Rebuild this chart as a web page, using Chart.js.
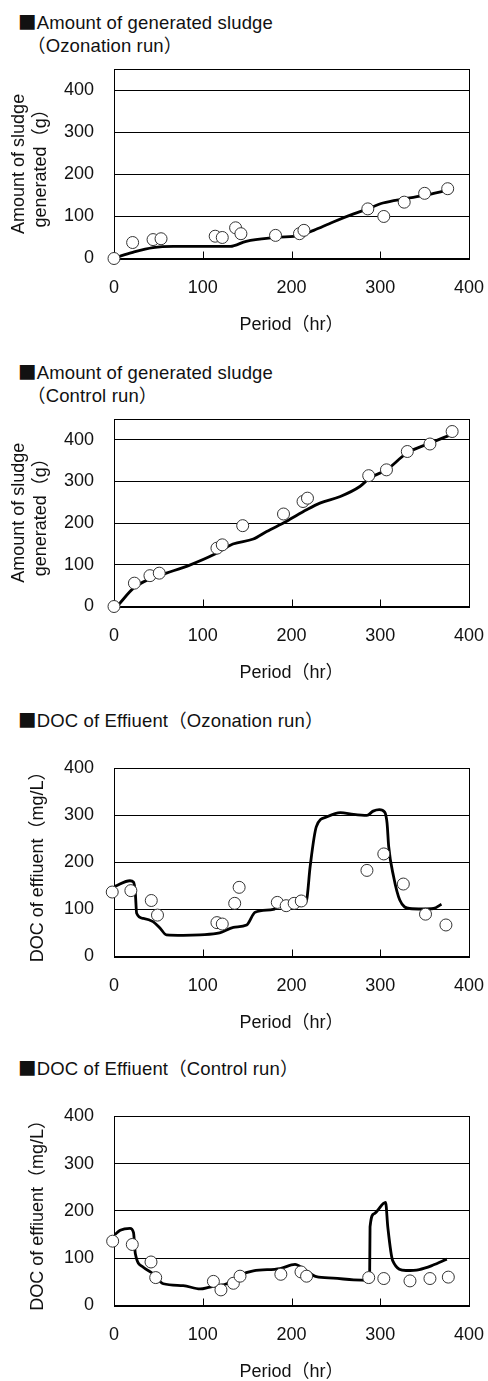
<!DOCTYPE html>
<html>
<head>
<meta charset="utf-8">
<script src="https://cdn.jsdelivr.net/npm/chart.js@4.4.1/dist/chart.umd.min.js"></script>
<style>
html, body { margin: 0; padding: 0; background: #fff; overflow: hidden; }
body { width: 488px; height: 1381px; position: relative; font-family: "Liberation Sans", "Noto Sans CJK JP", sans-serif; color: #111; }
.ttl { position: absolute; left: 18px; font-size: 18.5px; letter-spacing: 0.15px; line-height: 23px; white-space: nowrap; }
.sq { font-family: "Noto Sans CJK JP"; }
canvas { position: absolute; left: 0; }
</style>
</head>
<body>

<div class="ttl" style="top:10px"><span class="sq">■</span>Amount of generated sludge<br><span style="padding-left:9px">（Ozonation run）</span></div>
<canvas id="c1" width="488" height="284" style="top:52px"></canvas>

<div class="ttl" style="top:360px"><span class="sq">■</span>Amount of generated sludge<br><span style="padding-left:9px">（Control run）</span></div>
<canvas id="c2" width="488" height="282" style="top:402px"></canvas>

<div class="ttl" style="top:708px"><span class="sq">■</span>DOC of Effiuent（Ozonation run）</div>
<canvas id="c3" width="488" height="289" style="top:745px"></canvas>

<div class="ttl" style="top:1056px"><span class="sq">■</span>DOC of Effiuent（Control run）</div>
<canvas id="c4" width="488" height="290" style="top:1093px"></canvas>

<script>
// axis ticks
const xTicks = [0, 100, 200, 300, 400];

// sludge, ozonation run
const ozSludgeHr = [0, 21, 44, 53, 114, 122, 137, 143, 182, 209, 214, 286, 304, 327, 350, 376];
const ozSludgeG  = [0, 38, 45, 47, 53, 50, 73, 59, 55, 59, 67, 118, 100, 134, 155, 166];
const ozSludgeFitHr = [3, 20, 44, 67, 100, 131, 149, 183, 210, 225, 247, 270, 286, 303, 327, 350, 375];
const ozSludgeFitG  = [3, 14, 26, 29, 29, 29, 41, 50, 55, 67, 87, 106, 118, 132, 142, 150, 162];

// sludge, control run
const ctSludgeHr = [0, 23, 40.5, 51, 116, 122, 145, 191, 213, 218, 287, 307, 330.5, 356, 381];
const ctSludgeG  = [0, 56, 74, 80, 140, 148, 194, 222, 252, 260, 314, 328, 372, 390, 420];
const ctSludgeFitHr = [5, 22, 40, 59, 86, 112, 134, 157, 172, 194, 217, 232, 255, 277, 288, 307, 330, 356, 379];
const ctSludgeFitG  = [4, 44, 66, 80, 100, 124, 150, 162, 180, 204, 232, 248, 264, 288, 308, 328, 368, 392, 412];

// DOC, ozonation run
const ozDocHr = [-2, 19, 42, 49, 116, 122, 136, 141, 184, 194, 203, 211, 285, 304, 326, 351, 374];
const ozDocMg = [137, 140, 119, 88, 72, 69, 113, 147, 115, 108, 113, 118, 183, 218, 154, 90, 67];
const ozDocFitHr = [1, 18, 22, 24, 25.5, 33, 44, 52, 59, 78, 97, 119, 134.5, 149.5, 159, 179.5, 185, 202, 211.5, 217, 221, 228, 240, 255, 270, 285, 292, 299, 305, 307.7, 309.5, 315, 322, 333, 348, 360, 369];
const ozDocFitMg = [149, 161, 158, 136, 92, 81, 74, 60, 46, 45, 46, 50, 62, 67, 94, 100, 106, 106, 109, 120, 191, 276, 297, 306, 302, 300, 309, 312, 307, 283, 234, 170, 120, 102, 101, 102, 111];

// DOC, control run
const ctDocHr = [-1.5, 20.6, 41.7, 47, 112, 120.5, 134.5, 142, 188, 210.7, 217, 287, 304, 333.5, 356, 376.7];
const ctDocMg = [136, 129, 92, 59, 51, 33, 47, 62, 66, 71, 62, 59, 57, 52, 57, 60];
const ctDocFitHr = [1, 7, 18, 22, 24, 33, 44, 55.6, 78, 97, 108, 127, 142, 157, 187, 204, 213, 228, 247, 270, 288, 288.5, 293, 306, 308.5, 314, 329, 344, 359, 375];
const ctDocFitMg = [150, 159, 163, 154, 110, 81, 67, 46, 42, 35, 39, 46, 64, 73, 78, 87, 78, 61, 58, 54, 53, 166, 194, 218, 166, 95, 74, 76, 85, 98];

const FONT = { family: '"Liberation Sans", "Noto Sans CJK JP", sans-serif', size: 18 };
const INK = '#111';

const pts = (xs, ys) => xs.map((x, i) => ({ x: x, y: ys[i] }));

// plot frame + short inner ticks on the x axis
const frame = {
  id: 'frame',
  beforeDatasetsDraw(chart) {
    const { ctx, chartArea: a, scales: { x } } = chart;
    const l = Math.round(a.left) + 0.5, r = Math.round(a.right) + 0.5;
    const t = Math.round(a.top) + 0.5, b = Math.round(a.bottom) + 0.5;
    ctx.save();
    ctx.strokeStyle = '#000';
    ctx.lineWidth = 1;
    ctx.strokeRect(l, t, r - l, b - t);
    ctx.beginPath();
    xTicks.forEach(v => {
      const px = Math.round(x.getPixelForValue(v)) + 0.5;
      ctx.moveTo(px, b);
      ctx.lineTo(px, b - 8);
    });
    ctx.stroke();
    ctx.restore();
  }
};

function makeChart(id, c) {
  return new Chart(document.getElementById(id), {
    type: 'scatter',
    data: {
      datasets: [
        {
          data: pts(c.hr, c.val),
          pointRadius: 6,
          pointBackgroundColor: '#fff',
          pointBorderColor: '#333',
          pointBorderWidth: 1,
          showLine: false,
          clip: false
        },
        {
          data: pts(c.fitHr, c.fitVal),
          showLine: true,
          borderColor: '#000',
          borderWidth: 2.8,
          pointRadius: 0,
          cubicInterpolationMode: 'monotone',
          clip: false
        }
      ]
    },
    options: {
      responsive: false,
      animation: false,
      events: [],
      layout: { padding: { left: c.padLeft, right: 19, top: c.padTop, bottom: 0 } },
      plugins: { legend: { display: false }, tooltip: { enabled: false } },
      scales: {
        x: {
          type: 'linear',
          min: 0,
          max: 400,
          afterFit: s => { s.height = 77.5; },
          // tick marks kept invisible, they only space the labels
          grid: { drawOnChartArea: false, drawTicks: true, tickLength: 19, tickColor: 'rgba(0,0,0,0)' },
          border: { display: false },
          ticks: { stepSize: 100, padding: 0, maxRotation: 0, font: FONT, color: INK },
          title: { display: true, text: 'Period（hr）', font: FONT, color: INK, padding: 0 }
        },
        y: {
          min: 0,
          max: c.yMax,
          afterFit: s => { s.width = c.yWidth; },
          grid: { color: '#000', lineWidth: 1, drawTicks: true, tickLength: 20, tickColor: 'rgba(0,0,0,0)' },
          border: { display: false },
          ticks: {
            stepSize: 100,
            padding: 0,
            font: FONT,
            color: INK,
            callback: v => (v % 100 === 0 ? v : '')
          },
          title: { display: true, text: c.yTitle, font: FONT, color: INK, padding: 0 }
        }
      }
    },
    plugins: [frame]
  });
}

makeChart('c1', {
  hr: ozSludgeHr, val: ozSludgeG, fitHr: ozSludgeFitHr, fitVal: ozSludgeFitG,
  yMax: 450, yTitle: ['Amount of sludge', 'generated（g）'],
  padLeft: 8.5, yWidth: 105.5, padTop: 17.3
});

makeChart('c2', {
  hr: ctSludgeHr, val: ctSludgeG, fitHr: ctSludgeFitHr, fitVal: ctSludgeFitG,
  yMax: 450, yTitle: ['Amount of sludge', 'generated（g）'],
  padLeft: 8.5, yWidth: 105.5, padTop: 17
});

makeChart('c3', {
  hr: ozDocHr, val: ozDocMg, fitHr: ozDocFitHr, fitVal: ozDocFitMg,
  yMax: 400, yTitle: 'DOC of effiuent（mg/L）',
  padLeft: 27.5, yWidth: 86.5, padTop: 23.3
});

makeChart('c4', {
  hr: ctDocHr, val: ctDocMg, fitHr: ctDocFitHr, fitVal: ctDocFitMg,
  yMax: 400, yTitle: 'DOC of effiuent（mg/L）',
  padLeft: 27.5, yWidth: 86.5, padTop: 23.3
});
</script>
</body>
</html>
